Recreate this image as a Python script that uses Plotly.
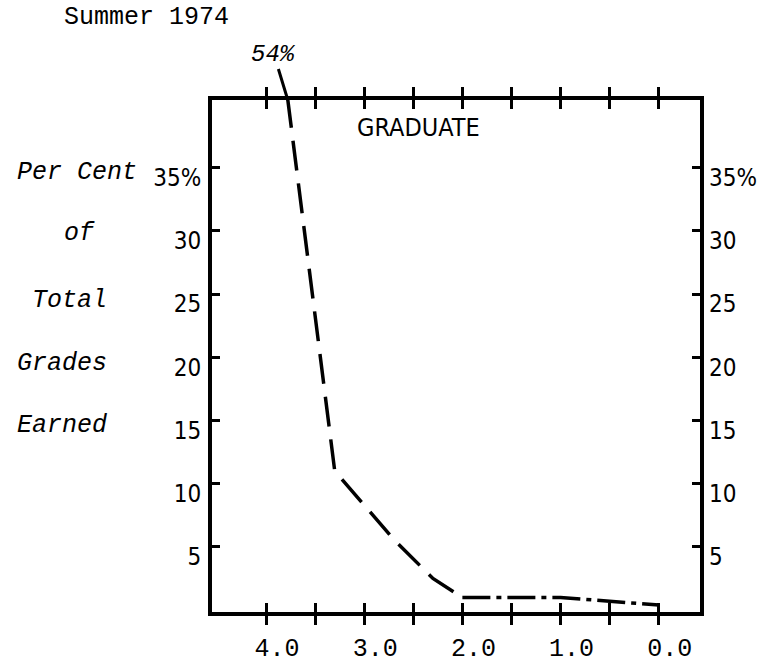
import plotly.graph_objects as go

# Grade distribution, graduate courses, summer 1974
grades_main = [4.0, 3.3, 3.0, 2.7, 2.3, 2.0]
pct_main = [54, 11, 8.3, 5.6, 2.5, 1.0]
grades_tail = [2.0, 1.0, 0.0]
pct_tail = [1.0, 1.0, 0.4]

x_tick_vals = [4.0, 3.5, 3.0, 2.5, 2.0, 1.5, 1.0, 0.5, 0.0]
x_tick_text = ["4.0", "", "3.0", "", "2.0", "", "1.0", "", "0.0"]
y_tick_vals = [5, 10, 15, 20, 25, 30, 35]
y_tick_text = ["5", "10", "15", "20", "25", "30", "35%"]
side_label_lines = ["Per Cent", "of", "Total", "Grades", "Earned"]
panel_title = "GRADUATE"
term_title = "Summer 1974"
peak_label = "54%"

# frame geometry (pixels)
W, H = 768, 667
L, R, T, B = 212, 68, 100, 55
PW, PH = W - L - R, H - T - B
X_RANGE = [4.55, -0.42]
Y_RANGE = [-0.15, 40.35]


def px(x):
    return (x - L) / PW


def py(y):
    return 1 - (y - T) / PH


mono = "Liberation Mono, Courier New, monospace"
sans = "DejaVu Sans Condensed, Liberation Sans, Arial, sans-serif"

fig = go.Figure()

fig.add_trace(go.Scatter(
    x=grades_main, y=pct_main, mode="lines",
    line=dict(color="black", width=3.5, dash="30px,13px"),
    hoverinfo="skip", showlegend=False,
))
fig.add_trace(go.Scatter(
    x=grades_tail, y=pct_tail, mode="lines",
    line=dict(color="black", width=3.5, dash="28px,6px,5px,6px"),
    hoverinfo="skip", showlegend=False,
))
# carrier trace for the right-hand labelled axis
fig.add_trace(go.Scatter(
    x=grades_main, y=pct_main, mode="lines", yaxis="y2",
    line=dict(color="rgba(0,0,0,0)", width=0),
    hoverinfo="skip", showlegend=False,
))

# where the first segment leaves the top of the frame
y_top = Y_RANGE[1]
x0, x1 = grades_main[0], grades_main[1]
v0, v1 = pct_main[0], pct_main[1]
t = (v0 - y_top) / (v0 - v1)
x_cross = x0 + (x1 - x0) * t

annotations = [
    dict(x=x_cross, y=y_top, xref="x", yref="y", text=peak_label,
         showarrow=True, arrowhead=0, arrowwidth=3, arrowcolor="black",
         ax=-14, ay=-46, standoff=0,
         font=dict(family=mono, size=24, color="black", style="italic")),
    dict(x=px(418), y=py(127), xref="paper", yref="paper", text=panel_title,
         showarrow=False, xanchor="center", yanchor="middle",
         font=dict(family=sans, size=25, color="black")),
    dict(x=px(62), y=py(17), xref="paper", yref="paper", text=term_title,
         showarrow=False, xanchor="left", yanchor="middle",
         font=dict(family=mono, size=25, color="black")),
]

side_pos = [(15, 172), (62, 233), (30, 300), (15, 363), (15, 425)]
for txt, (sx, sy) in zip(side_label_lines, side_pos):
    annotations.append(dict(
        x=px(sx), y=py(sy), xref="paper", yref="paper", text=txt,
        showarrow=False, xanchor="left", yanchor="middle",
        font=dict(family=mono, size=25, color="black", style="italic"),
    ))

axis_common = dict(showgrid=False, zeroline=False, automargin=False)

fig.update_layout(
    width=W, height=H,
    margin=dict(l=L, r=R, t=T, b=B, pad=0, autoexpand=False),
    paper_bgcolor="white", plot_bgcolor="white",
    xaxis=dict(
        **axis_common, range=X_RANGE, autorange=False,
        tickmode="array", tickvals=x_tick_vals, ticktext=x_tick_text,
        ticks="inside", ticklen=9, tickwidth=3, tickcolor="black",
        showline=True, linewidth=4, linecolor="black", mirror="allticks",
        ticklabelshift=-11, ticklabelstandoff=10,
        tickfont=dict(family=mono, size=25, color="black"),
    ),
    yaxis=dict(
        **axis_common, range=Y_RANGE, autorange=False,
        tickmode="array", tickvals=y_tick_vals, ticktext=y_tick_text,
        ticks="inside", ticklen=8, tickwidth=3, tickcolor="black",
        showline=True, linewidth=4, linecolor="black", mirror="allticks",
        ticklabelshift=10, ticklabelstandoff=2,
        tickfont=dict(family=sans, size=24, color="black"),
    ),
    yaxis2=dict(
        **axis_common, range=Y_RANGE, autorange=False, overlaying="y",
        side="right", anchor="x",
        tickmode="array", tickvals=y_tick_vals, ticktext=y_tick_text,
        ticks="", showline=False,
        ticklabelshift=10, ticklabelstandoff=8,
        tickfont=dict(family=sans, size=24, color="black"),
    ),
    annotations=annotations,
)

fig.write_html("out.html")
